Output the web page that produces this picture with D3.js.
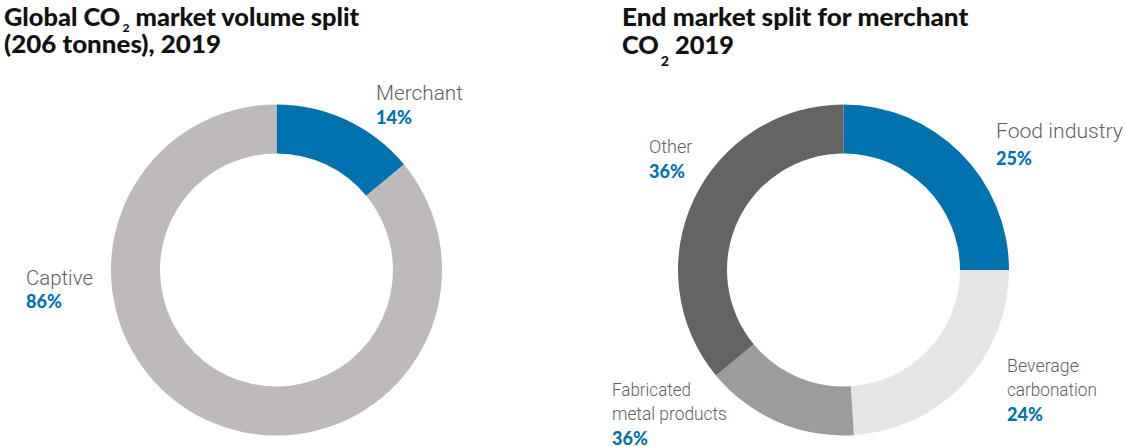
<!DOCTYPE html>
<html>
<head>
<meta charset="utf-8">
<script src="https://cdn.jsdelivr.net/npm/d3@7"></script>
<style>
  html, body { margin: 0; padding: 0; background: #ffffff; }
  svg { display: block; }
  .title { font-family: Lato, "Open Sans", sans-serif; font-weight: 900; font-size: 25px; fill: #111111; }
  .name { font-family: Roboto, "Noto Sans", sans-serif; font-weight: 300; fill: #5f5f5f; }
  .pct { font-family: Lato, "Open Sans", sans-serif; font-weight: 900; font-size: 18px; fill: #0073ae; }
</style>
</head>
<body>
<svg id="chart" width="1125" height="447"></svg>
<script>
// Global CO2 volume split, 2019
const volumeCategories = ["Merchant", "Captive"];
const volumeValues = [14, 86];
const volumeLabels = ["14%", "86%"];
const volumeColors = ["#0073ae", "#bdbab9"];

// End market split for merchant CO2, 2019
const endCategories = ["Food industry", "Beverage carbonation", "Fabricated metal products", "Other"];
const endValues = [25, 24, 15, 36];
const endLabels = ["25%", "24%", "36%", "36%"];
const endColors = ["#0073ae", "#e6e6e6", "#9c9c9c", "#646464"];

const svg = d3.select("#chart");
const outerR = 165.5, innerR = 116.5;

const pie = d3.pie().sort(null).value(d => d.value);
const arc = d3.arc().innerRadius(innerR).outerRadius(outerR);

function donut(cx, cy, cats, vals, colors) {
  const data = cats.map((c, i) => ({ name: c, value: vals[i], color: colors[i] }));
  const g = svg.append("g").attr("transform", `translate(${cx},${cy})`);
  g.selectAll("path").data(pie(data)).join("path")
    .attr("d", arc)
    .attr("fill", d => d.data.color);
  return g;
}

// Squeeze a text horizontally so that it spans the given width from its x
function fit(sel, x0, width) {
  const w = sel.node().getBBox().width;
  const k = width / w;
  sel.attr("transform", `translate(${x0},0) scale(${k},1) translate(${-x0},0)`);
  return sel;
}

// Title line; parts with sub:true are drawn as a lowered subscript
function titleLine(x, y, parts, width, subSize, subDy) {
  const t = svg.append("text").attr("class", "title").attr("x", x).attr("y", y);
  let lowered = false;
  parts.forEach(p => {
    const s = t.append("tspan").text(p.text);
    if (p.sub) {
      s.attr("font-size", subSize + "px").attr("dy", subDy).attr("dx", 2);
      lowered = true;
    } else if (lowered) {
      s.attr("dy", -subDy);
      lowered = false;
    }
  });
  return fit(t, x, width);
}

titleLine(4, 26, [{ text: "Global CO" }, { text: "2", sub: true }, { text: " market volume split" }], 356, 12, 6);
titleLine(4, 53, [{ text: "(206 tonnes), 2019" }], 217);
titleLine(622, 26, [{ text: "End market split for merchant" }], 347);
titleLine(622, 54, [{ text: "CO" }, { text: "2", sub: true }, { text: " 2019" }], 112, 14, 12);

donut(276.5, 270, volumeCategories, volumeValues, volumeColors);
donut(843.5, 270, endCategories, endValues, endColors);

// Category labels: name lines then bold percentage
function label(x, y, lines, widths, size, pct, lh) {
  lines.forEach((l, i) => {
    const t = svg.append("text").attr("class", "name")
      .attr("font-size", size + "px")
      .attr("x", x).attr("y", y + i * lh).text(l);
    fit(t, x, widths[i]);
  });
  svg.append("text").attr("class", "pct").attr("x", x).attr("y", y + lines.length * lh).text(pct);
}

label(376, 100.5, ["Merchant"], [87], 20, volumeLabels[0], 23);
label(26, 285.5, ["Captive"], [67], 20.5, volumeLabels[1], 22);

label(996, 138.5, ["Food industry"], [127], 19.5, endLabels[0], 26);
label(1007, 372.5, ["Beverage", "carbonation"], [72, 90], 17.5, endLabels[1], 24);
label(612, 396.5, ["Fabricated", "metal products"], [79, 115], 17.5, endLabels[2], 24);
label(649, 153.5, ["Other"], [44], 19, endLabels[3], 24);
</script>
</body>
</html>
